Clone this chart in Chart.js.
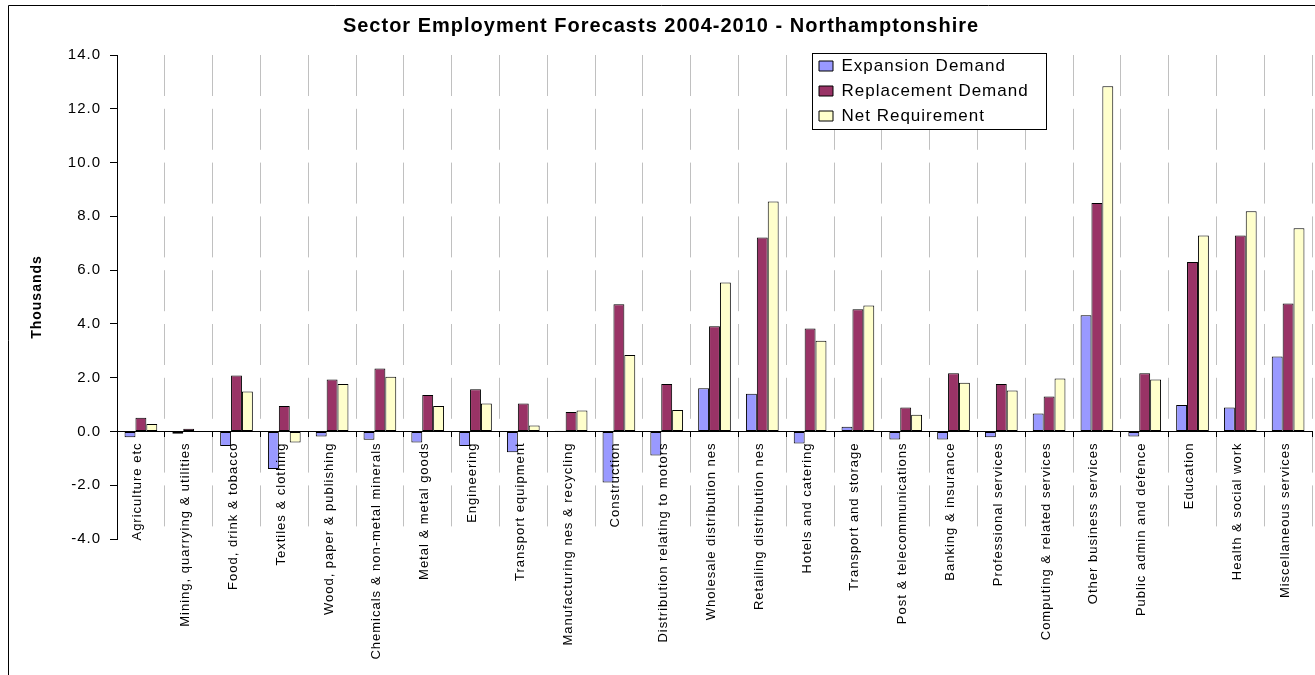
<!DOCTYPE html>
<html>
<head>
<meta charset="utf-8">
<title>Sector Employment Forecasts 2004-2010 - Northamptonshire</title>
<script src="https://cdn.jsdelivr.net/npm/chart.js@4.4.1/dist/chart.umd.min.js"></script>
<style>
  html, body { margin: 0; padding: 0; background: #fff; overflow: hidden; }
  canvas { display: block; }
</style>
</head>
<body>
<canvas id="chart" width="1315" height="675"></canvas>
<script>
const sectors = [
  "Agriculture etc",
  "Mining, quarrying & utilities",
  "Food, drink & tobacco",
  "Textiles & clothing",
  "Wood, paper & publishing",
  "Chemicals & non-metal minerals",
  "Metal & metal goods",
  "Engineering",
  "Transport equipment",
  "Manufacturing nes & recycling",
  "Construction",
  "Distribution relating to motors",
  "Wholesale distribution nes",
  "Retailing distribution nes",
  "Hotels and catering",
  "Transport and storage",
  "Post & telecommunications",
  "Banking & insurance",
  "Professional services",
  "Computing & related services",
  "Other business services",
  "Public admin and defence",
  "Education",
  "Health & social work",
  "Miscellaneous services"
];

// thousands of jobs, 2004-2010
const expansionDemand = [-0.22, -0.09, -0.54, -1.40, -0.19, -0.31, -0.41, -0.54, -0.77, 0.03,
  -1.90, -0.89, 1.61, 1.40, -0.45, 0.17, -0.30, -0.30, -0.22, 0.67, 4.32, -0.19, 0.98, 0.89, 2.79];
const replacementDemand = [0.51, 0.10, 2.08, 0.95, 1.93, 2.34, 1.36, 1.57, 1.04, 0.72,
  4.73, 1.76, 3.91, 7.21, 3.83, 4.54, 0.89, 2.16, 1.76, 1.30, 8.50, 2.16, 6.30, 7.29, 4.76];
const netRequirement = [0.28, 0.01, 1.49, -0.41, 1.76, 2.03, 0.95, 1.04, 0.22, 0.78,
  2.84, 0.80, 5.54, 8.55, 3.37, 4.68, 0.62, 1.81, 1.52, 1.97, 12.84, 1.93, 7.29, 8.19, 7.56];

const yMin = -4;
const yMax = 14;
const yStep = 2;

Chart.defaults.font.family = '"Liberation Sans", Arial, sans-serif';
Chart.defaults.color = "#000";

// the original text is drawn wider than its height, spread the letters a bit
const textSpacing = {
  id: "textSpacing",
  beforeUpdate(chart) {
    chart.ctx.letterSpacing = "1px";
  }
};

// legend box sits inside the plot, top right, with a white fill and black frame
const legendBox = { left: 812, top: 53, width: 235, height: 77 };

const framePlugin = {
  id: "framePlugin",
  afterLayout(chart) {
    const lg = chart.legend;
    lg.left = legendBox.left - 1;
    lg.top = legendBox.top - 3.5;
    lg.right = legendBox.left + legendBox.width;
    lg.bottom = legendBox.top + legendBox.height + 40;
  },
  afterDatasetsDraw(chart) {
    const ctx = chart.ctx;
    ctx.save();
    ctx.fillStyle = "#fff";
    ctx.fillRect(legendBox.left, legendBox.top, legendBox.width, legendBox.height);
    ctx.strokeStyle = "#000";
    ctx.lineWidth = 1;
    ctx.strokeRect(legendBox.left + 0.5, legendBox.top + 0.5, legendBox.width - 1, legendBox.height - 1);
    ctx.restore();
    chart.legend.draw();
  },
  afterDraw(chart) {
    // outer chart frame, cut off at the right and bottom in the original
    const ctx = chart.ctx;
    ctx.save();
    ctx.strokeStyle = "#000";
    ctx.lineWidth = 1;
    ctx.beginPath();
    ctx.moveTo(8.5, chart.height);
    ctx.lineTo(8.5, 5.5);
    ctx.lineTo(chart.width, 5.5);
    ctx.stroke();
    ctx.restore();
  }
};

const barStyle = {
  borderColor: "#000",
  borderWidth: 1,
  borderSkipped: false,
  categoryPercentage: 0.684,
  barPercentage: 1.0
};

const gridDash = [41, 12.8];

new Chart(document.getElementById("chart"), {
  type: "bar",
  data: {
    labels: sectors,
    datasets: [
      { label: "Expansion Demand", data: expansionDemand, backgroundColor: "#9999ff", ...barStyle },
      { label: "Replacement Demand", data: replacementDemand, backgroundColor: "#993366", ...barStyle },
      { label: "Net Requirement", data: netRequirement, backgroundColor: "#ffffcc", ...barStyle }
    ]
  },
  options: {
    responsive: false,
    animation: false,
    // room under the plot for the sector names hanging off the zero line
    layout: { padding: { left: 10, top: 4, right: 3, bottom: 136 } },
    plugins: {
      title: {
        display: true,
        text: "Sector Employment Forecasts 2004-2010 - Northamptonshire",
        color: "#000",
        font: { size: 20, weight: "bold" },
        padding: { top: 10.5, bottom: 16.5 }
      },
      legend: {
        position: "chartArea",
        align: "start",
        labels: {
          boxWidth: 14,
          boxHeight: 10,
          padding: 8,
          color: "#000",
          font: { size: 17 }
        }
      },
      tooltip: { enabled: false }
    },
    scales: {
      x: {
        position: { y: 0 },
        offset: true,
        grid: {
          offset: true,
          color: "#c0c0c0",
          lineWidth: 1,
          borderDash: gridDash,
          drawTicks: true,
          tickLength: 5,
          tickColor: "#000"
        },
        border: { display: true, color: "#000", width: 1, dash: gridDash },
        ticks: {
          autoSkip: false,
          minRotation: 90,
          maxRotation: 90,
          padding: 6,
          labelOffset: -3,
          z: 1,
          font: { size: 13 }
        }
      },
      y: {
        min: yMin,
        max: yMax,
        ticks: {
          stepSize: yStep,
          padding: 9,
          font: { size: 15 },
          callback: (v) => v.toFixed(1)
        },
        grid: {
          drawOnChartArea: false,
          drawTicks: true,
          tickLength: 7,
          tickColor: "#000"
        },
        border: { display: true, color: "#000", width: 1 },
        title: {
          display: true,
          text: "Thousands",
          font: { size: 14, weight: "bold" },
          padding: { top: 18.6, bottom: 0 }
        },
        afterFit(scale) {
          scale.width = 107;
        }
      }
    }
  },
  plugins: [textSpacing, framePlugin]
});
</script>
</body>
</html>
